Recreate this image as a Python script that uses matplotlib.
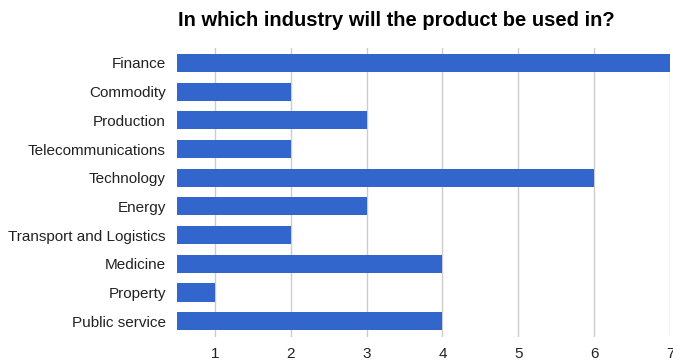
import matplotlib
matplotlib.use("Agg")
import matplotlib.pyplot as plt

industries = ["Finance", "Commodity", "Production", "Telecommunications",
              "Technology", "Energy", "Transport and Logistics", "Medicine",
              "Property", "Public service"]
counts = [7, 2, 3, 2, 6, 3, 2, 4, 1, 4]
x_ticks = [1, 2, 3, 4, 5, 6, 7]

plt.rcParams['font.family'] = ['Liberation Sans', 'DejaVu Sans']

fig = plt.figure(figsize=(6.73, 3.62), dpi=100)
ax = fig.add_axes([177/673, 1 - 337/362, (670 - 177)/673, (337 - 48)/362])

ypos = list(range(len(industries)))
ax.barh(ypos, counts, height=0.63, color="#3366cc", zorder=3)

ax.set_xlim(0.5, 7)
ax.set_ylim(len(industries) - 0.45, -0.52)
ax.set_xticks(x_ticks)
ax.set_xticklabels([str(t) for t in x_ticks])
ax.set_yticks(ypos)
ax.set_yticklabels(industries)
ax.grid(axis="x", color="#cccccc", linewidth=1, zorder=0)
for s in ax.spines.values():
    s.set_visible(False)
ax.tick_params(axis="both", length=0, labelsize=11, labelcolor="#222222")
ax.tick_params(axis="y", pad=8)
ax.tick_params(axis="x", pad=7)

fig.text(178/673, 1 - 20/362, "In which industry will the product be used in?",
         ha="left", va="center", fontsize=14.5, fontweight="bold", color="#000000")

fig.savefig("out.png", dpi=100)
